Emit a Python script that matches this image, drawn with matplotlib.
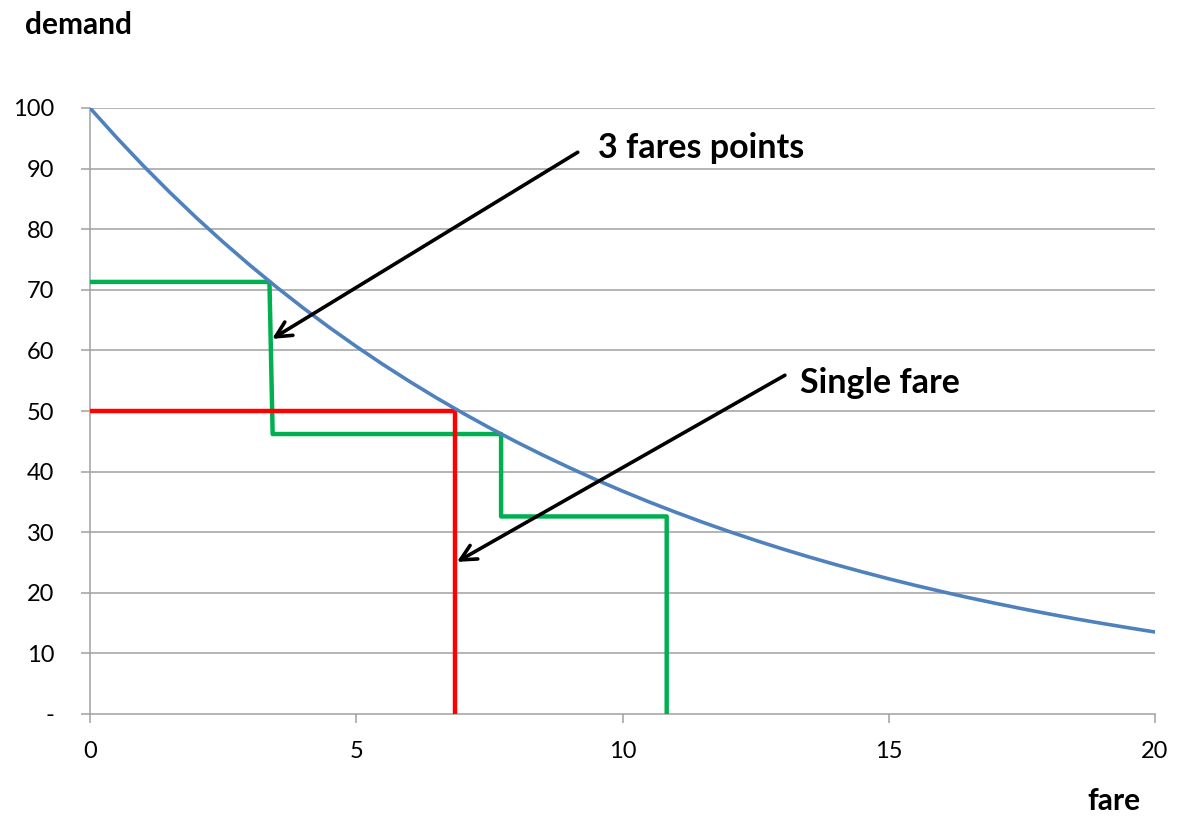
import matplotlib
matplotlib.use("Agg")
import matplotlib.pyplot as plt

plt.rcParams['font.family'] = ['Lato', 'DejaVu Sans']

# Demand curve sampled every half fare unit
fare = [0, 0.5, 1, 1.5, 2, 2.5, 3, 3.5, 4, 4.5, 5, 5.5, 6, 6.5, 7, 7.5, 8, 8.5,
        9, 9.5, 10, 10.5, 11, 11.5, 12, 12.5, 13, 13.5, 14, 14.5, 15, 15.5,
        16, 16.5, 17, 17.5, 18, 18.5, 19, 19.5, 20]
demand = [100, 95.12, 90.48, 86.07, 81.87, 77.88, 74.08, 70.47, 67.03, 63.76,
          60.65, 57.69, 54.88, 52.20, 49.66, 47.24, 44.93, 42.74, 40.66,
          38.67, 36.79, 34.99, 33.29, 31.66, 30.12, 28.65, 27.25, 25.92,
          24.66, 23.46, 22.31, 21.22, 20.19, 19.20, 18.27, 17.38, 16.53,
          15.72, 14.96, 14.23, 13.53]

# Three fare points (step outline)
three_x = [0, 3.37, 3.43, 7.72, 7.72, 10.83, 10.83]
three_y = [71.3, 71.3, 46.2, 46.2, 32.6, 32.6, 0]

# Single fare (step outline)
single_x = [0, 6.85, 6.85]
single_y = [50.0, 50.0, 0]

y_ticks = [0, 10, 20, 30, 40, 50, 60, 70, 80, 90, 100]
y_labels = ['-', '10', '20', '30', '40', '50', '60', '70', '80', '90', '100']
x_ticks = [0, 5, 10, 15, 20]

fig = plt.figure(figsize=(11.78, 8.16), dpi=100)
ax = fig.add_axes([90 / 1178, 1 - 714 / 816, 1065 / 1178, 606 / 816])

grid_c = '#A0A0A0'
for y in y_ticks[1:]:
    ax.axhline(y, color=grid_c, lw=1.1, zorder=1)

ax.plot(fare, demand, color='#4F81BD', lw=2.6, zorder=3, solid_joinstyle='round')
ax.plot(three_x, three_y, color='#00B050', lw=3.2, zorder=2)
ax.plot(single_x, single_y, color='#FF0000', lw=3.2, zorder=2)

ax.set_xlim(0, 20)
ax.set_ylim(0, 100)
ax.set_xticks(x_ticks)
ax.set_xticklabels([str(v) for v in x_ticks])
ax.set_yticks(y_ticks)
ax.set_yticklabels(y_labels)

for s in ['top', 'right']:
    ax.spines[s].set_visible(False)
for s in ['left', 'bottom']:
    ax.spines[s].set_color(grid_c)
    ax.spines[s].set_linewidth(1.1)
    ax.spines[s].set_zorder(1)

ax.tick_params(axis='both', colors=grid_c, labelcolor='black', labelsize=17,
               length=6.5, width=1.1, direction='out')
ax.tick_params(axis='y', pad=19)
ax.tick_params(axis='x', pad=13)

# Annotations
arrow = dict(arrowstyle='->', color='black', lw=2.6, mutation_scale=28,
             shrinkA=0, shrinkB=0)
ax.annotate('', xy=(3.42, 61.9), xytext=(9.16, 92.7), arrowprops=arrow, zorder=5)
ax.annotate('', xy=(6.89, 25.1), xytext=(13.05, 55.9), arrowprops=arrow, zorder=5)
fig.text(598 / 1178, 1 - 148 / 816, '3 fares points', fontsize=24.5,
         fontweight='bold', ha='left', va='center')
fig.text(800 / 1178, 1 - 383 / 816, 'Single fare', fontsize=24.5,
         fontweight='bold', ha='left', va='center')

fig.text(25 / 1178, 1 - 25 / 816, 'demand', fontsize=21.5, fontweight='bold',
         ha='left', va='center')
fig.text(1140 / 1178, 1 - 801 / 816, 'fare', fontsize=21.5, fontweight='bold',
         ha='right', va='center')

fig.savefig('out.png', dpi=100)
